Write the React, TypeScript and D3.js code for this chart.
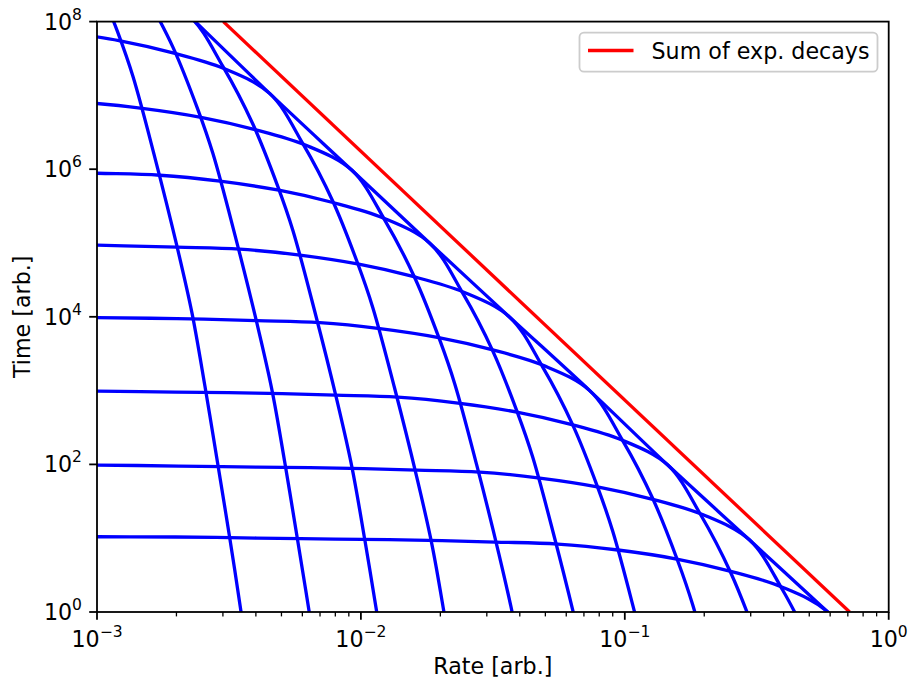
import React from 'react';
import * as d3 from 'd3';

// ---- data ----
const c1Rate = [9.66e-4, 1.199e-3, 1.368e-3, 1.656e-3, 2.009e-3, 2.291e-3, 2.564e-3, 2.844e-3, 3.170e-3, 3.516e-3, 3.855e-3];
const c1Time = [4.94e8, 7.14e7, 1.812e7, 1.448e6, 9.04e4, 1.119e4, 1151, 121.9, 11.12, 0.991, 0.0912];

const c2Rate = [1.493e-3, 1.941e-3, 2.410e-3, 2.748e-3, 3.327e-3, 4.036e-3, 4.603e-3, 5.152e-3, 5.715e-3, 6.368e-3, 7.063e-3];
const c2Time = [2.73e8, 4.48e7, 6.47e6, 1.64e6, 1.31e5, 8185, 1014, 104.2, 11.04, 1.007, 0.0897];

const c3Rate = [1.507e-3, 2.249e-3, 2.999e-3, 3.899e-3, 4.842e-3, 5.521e-3, 6.683e-3, 8.110e-3, 9.247e-3, 1.035e-2, 1.148e-2, 1.279e-2];
const c3Time = [2.56e8, 1.175e8, 2.47e7, 4.06e6, 5.86e5, 1.49e5, 1.189e4, 741.3, 91.8, 9.44, 1.0, 0.0912];

const c4Rate = [7.244e-4, 1.211e-3, 1.923e-3, 3.027e-3, 4.519e-3, 6.026e-3, 7.834e-3, 9.727e-3, 1.109e-2, 1.343e-2, 1.629e-2, 1.858e-2, 2.080e-2, 2.307e-2];
const c4Time = [7.31e7, 5.52e7, 3.79e7, 2.31e7, 1.057e7, 2.22e6, 3.65e5, 5.27e4, 1.34e4, 1069, 66.7, 8.26, 0.849, 0.0899];

const c5Rate = [5.070e-4, 8.770e-4, 1.483e-3, 2.477e-3, 3.936e-3, 6.194e-3, 9.247e-3, 1.233e-2, 1.603e-2, 1.991e-2, 2.270e-2, 2.748e-2, 3.334e-2, 3.802e-2, 4.256e-2];
const c5Time = [8.57e6, 8.05e6, 6.68e6, 5.05e6, 3.47e6, 2.11e6, 9.66e5, 2.03e5, 3.33e4, 4820, 1222, 97.7, 6.10, 0.755, 0.0776];

const c6Rate = [4.977e-4, 1.000e-3, 1.730e-3, 2.924e-3, 4.887e-3, 7.762e-3, 1.222e-2, 1.824e-2, 2.432e-2, 3.162e-2, 3.926e-2, 4.477e-2, 5.420e-2, 6.577e-2, 7.50e-2];
const c6Time = [9.38e5, 8.81e5, 8.28e5, 6.87e5, 5.19e5, 3.565e5, 2.168e5, 9.93e4, 2.09e4, 3428, 495.5, 125.6, 10.05, 0.627, 0.0776];

const c7Rate = [4.977e-4, 1.000e-3, 2.009e-3, 3.475e-3, 5.875e-3, 9.817e-3, 1.560e-2, 2.455e-2, 3.664e-2, 4.887e-2, 6.353e-2, 7.889e-2, 8.995e-2, 0.1089, 0.1321];
const c7Time = [9.62e4, 9.33e4, 8.77e4, 8.24e4, 6.84e4, 5.16e4, 3.548e4, 2.158e4, 9886, 2080, 341.2, 49.3, 12.50, 1.0, 0.0624];

const c8Rate = [5.058e-4, 1.000e-3, 2.009e-3, 4.036e-3, 6.982e-3, 1.180e-2, 1.972e-2, 3.133e-2, 4.932e-2, 7.362e-2, 9.817e-2, 0.1276, 0.1585, 0.1807, 0.2188];
const c8Time = [1.005e4, 9727, 9441, 8872, 8337, 6918, 5224, 3590, 2183, 1000, 210.4, 34.5, 4.99, 1.265, 0.1012];

const c9Rate = [4.898e-4, 1.000e-3, 1.977e-3, 3.972e-3, 7.980e-3, 1.380e-2, 2.333e-2, 3.899e-2, 6.194e-2, 9.750e-2, 0.1455, 0.1941, 0.2523, 0.3133];
const c9Time = [1016, 984.0, 952.8, 924.8, 869.0, 816.6, 677.7, 511.7, 351.6, 213.8, 97.95, 20.61, 3.380, 0.4887];

const c10Rate = [5.047e-4, 1.000e-3, 2.042e-3, 4.036e-3, 8.110e-3, 1.629e-2, 2.818e-2, 4.764e-2, 7.962e-2, 0.1265, 0.1991, 0.2972, 0.3963, 0.5152];
const c10Time = [98.86, 97.95, 94.85, 91.84, 89.13, 83.76, 78.71, 65.32, 49.32, 33.88, 20.61, 9.44, 1.986, 0.3258];

const c11Rate = [5.000e-4, 1.000e-3, 1.977e-3, 4.036e-3, 7.980e-3, 1.603e-2, 3.221e-2, 5.572e-2, 9.420e-2, 0.1574, 0.2501, 0.3936, 0.5875, 0.7834];
const c11Time = [10.59, 10.47, 10.38, 10.05, 9.727, 9.441, 8.872, 8.337, 6.918, 5.224, 3.589, 2.183, 1.0, 0.2104];

const c12Rate = [1.995e-3, 2.249e-3, 4.519e-3, 9.247e-3, 1.824e-2, 3.664e-2, 7.362e-2, 0.1455, 0.2972, 0.5875, 0.631];
const c12Time = [1.778e8, 1.175e8, 1.057e7, 9.66e5, 9.93e4, 9886, 1000, 97.95, 9.44, 1.0, 0.794];

const sumRate = [0.00301, 0.711];
const sumTime = [1e8, 1];

const xTickValues = [1e-3, 1e-2, 1e-1, 1];
const xTickExps = ['\u22123', '\u22122', '\u22121', '0'];
const yTickValues = [1, 1e2, 1e4, 1e6, 1e8];
const yTickExps = ['0', '2', '4', '6', '8'];

const legendLabel = 'Sum of exp. decays';
const xLabel = 'Rate [arb.]';
const yLabel = 'Time [arb.]';

// ---- layout ----
const W = 909;
const H = 677;
const L = 97;
const R = 888.7;
const T = 21.6;
const B = 612;
const FONT = 'DejaVu Sans';
const FS = 22.2;

export default function App() {
  const x = d3.scaleLog().domain([1e-3, 1]).range([L, R]);
  const y = d3.scaleLog().domain([1, 1e8]).range([B, T]);
  const curved = d3
    .line<[number, number]>()
    .x((d) => x(d[0]))
    .y((d) => y(d[1]))
    .curve(d3.curveCatmullRom.alpha(0.5));
  const straight = d3
    .line<[number, number]>()
    .x((d) => x(d[0]))
    .y((d) => y(d[1]));
  const pair = (r: number[], t: number[]) => r.map((v, i) => [v, t[i]] as [number, number]);

  const blue: [number[], number[]][] = [
    [c1Rate, c1Time],
    [c2Rate, c2Time],
    [c3Rate, c3Time],
    [c4Rate, c4Time],
    [c5Rate, c5Time],
    [c6Rate, c6Time],
    [c7Rate, c7Time],
    [c8Rate, c8Time],
    [c9Rate, c9Time],
    [c10Rate, c10Time],
    [c11Rate, c11Time],
    [c12Rate, c12Time],
  ];

  const minor = x
    .ticks()
    .filter((v) => Math.abs(Math.log10(v) - Math.round(Math.log10(v))) > 1e-6);

  const supFS = FS * 0.7;

  return (
    <svg
      width={W}
      height={H}
      viewBox={`0 0 ${W} ${H}`}
      style={{ position: 'absolute', left: 0, top: 0, background: '#ffffff' }}
      fontFamily={FONT}
    >
      <defs>
        <clipPath id="plotClip">
          <rect x={L} y={T} width={R - L} height={B - T} />
        </clipPath>
      </defs>
      <rect x={0} y={0} width={W} height={H} fill="#ffffff" />

      <g clipPath="url(#plotClip)">
        {blue.map(([r, t], i) => (
          <path
            key={i}
            d={curved(pair(r, t)) || ''}
            fill="none"
            stroke="#0000ff"
            strokeWidth={3.3}
            strokeLinejoin="round"
            strokeLinecap="butt"
          />
        ))}
        <path
          d={straight(pair(sumRate, sumTime)) || ''}
          fill="none"
          stroke="#ff0000"
          strokeWidth={3.3}
        />
      </g>

      {/* spines */}
      <rect x={L} y={T} width={R - L} height={B - T} fill="none" stroke="#000000" strokeWidth={1.8} />

      {/* x ticks */}
      {xTickValues.map((v, i) => (
        <g key={'xt' + i}>
          <line x1={x(v)} x2={x(v)} y1={B} y2={B + 7.8} stroke="#000" strokeWidth={1.8} />
          <text x={x(v)} y={647} textAnchor="middle" fontSize={FS} fill="#000">
            <tspan>10</tspan>
            <tspan dy={-10} fontSize={supFS}>{xTickExps[i]}</tspan>
          </text>
        </g>
      ))}
      {minor.map((v, i) => (
        <line key={'xm' + i} x1={x(v)} x2={x(v)} y1={B} y2={B + 4.4} stroke="#000" strokeWidth={1.3} />
      ))}

      {/* y ticks */}
      {yTickValues.map((v, i) => (
        <g key={'yt' + i}>
          <line x1={L - 7.8} x2={L} y1={y(v)} y2={y(v)} stroke="#000" strokeWidth={1.8} />
          <text x={82} y={y(v) + 8} textAnchor="end" fontSize={FS} fill="#000">
            <tspan>10</tspan>
            <tspan dy={-10} fontSize={supFS}>{yTickExps[i]}</tspan>
          </text>
        </g>
      ))}

      {/* axis labels */}
      <text x={(L + R) / 2} y={674} textAnchor="middle" fontSize={FS} fill="#000">
        {xLabel}
      </text>
      <text
        transform={`translate(30, ${(T + B) / 2}) rotate(-90)`}
        textAnchor="middle"
        fontSize={FS}
        fill="#000"
      >
        {yLabel}
      </text>

      {/* legend */}
      <g>
        <rect
          x={579.5}
          y={32.7}
          width={298}
          height={39}
          rx={4.4}
          ry={4.4}
          fill="#ffffff"
          fillOpacity={0.8}
          stroke="#cccccc"
          strokeWidth={1.8}
        />
        <line x1={588} x2={633.5} y1={50.5} y2={50.5} stroke="#ff0000" strokeWidth={3.3} />
        <text x={651.5} y={58.5} fontSize={FS} fill="#000">
          {legendLabel}
        </text>
      </g>
    </svg>
  );
}
